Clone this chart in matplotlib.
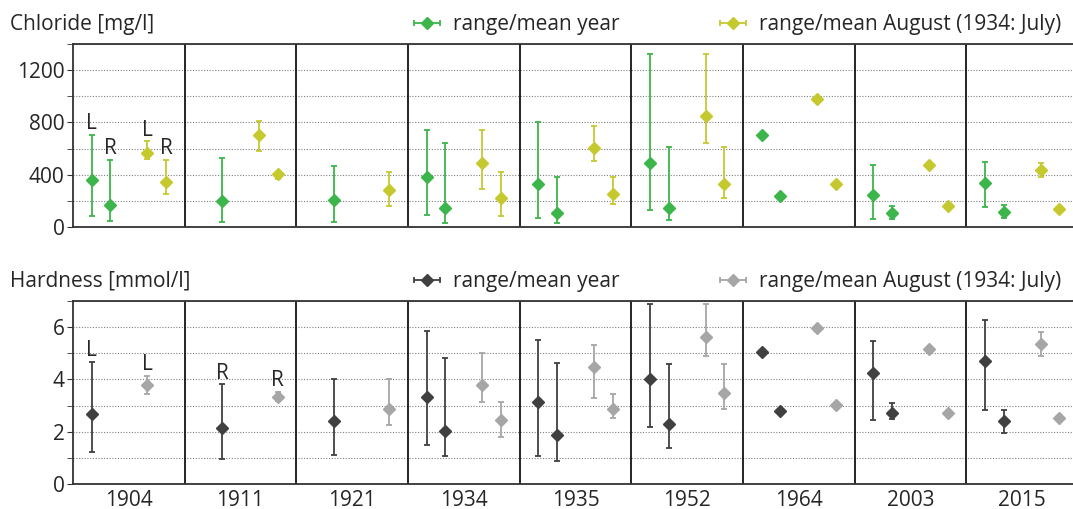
import numpy as np
import matplotlib
matplotlib.use("Agg")
from matplotlib import pyplot as plt
from matplotlib.legend import Legend
from matplotlib.legend_handler import HandlerErrorbar

plt.rcParams["font.family"] = ["Open Sans", "DejaVu Sans"]

years = ["1904", "1911", "1921", "1934", "1935", "1952", "1964", "2003", "2015"]
nan = np.nan

# Chloride [mg/l]: mean, low, high per series (L/R = left/right point)
cl_year_l = [357, nan, nan, 385, 326, 492, 706, 247, 334]
cl_year_l_lo = [82, nan, nan, 94, 71, 132, nan, 59, 150]
cl_year_l_hi = [703, nan, nan, 739, 800, 1320, nan, 474, 499]
cl_year_r = [168, 196, 204, 143, 110, 148, 234, 104, 112]
cl_year_r_lo = [46, 36, 41, 31, 31, 54, nan, 61, 71]
cl_year_r_hi = [512, 527, 469, 645, 380, 614, nan, 160, 171]
cl_aug_l = [568, 703, nan, 492, 606, 848, 976, 471, 436]
cl_aug_l_lo = [520, 578, nan, 290, 504, 639, nan, nan, 382]
cl_aug_l_hi = [655, 808, nan, 739, 775, 1320, nan, nan, 492]
cl_aug_r = [341, 405, 285, 219, 255, 326, 326, 160, 135]
cl_aug_r_lo = [252, 367, 163, 84, 173, 219, nan, nan, nan]
cl_aug_r_hi = [512, 423, 423, 418, 380, 611, nan, nan, nan]

# Hardness [mmol/l]
hd_year_l = [2.68, nan, nan, 3.31, 3.13, 4.00, 5.06, 4.23, 4.69]
hd_year_l_lo = [1.22, nan, nan, 1.50, 1.07, 2.18, nan, 2.46, 2.84]
hd_year_l_hi = [4.68, nan, nan, 5.85, 5.49, 6.88, nan, 5.46, 6.27]
hd_year_r = [nan, 2.13, 2.41, 2.04, 1.87, 2.31, 2.78, 2.70, 2.41]
hd_year_r_lo = [nan, 0.96, 1.12, 1.08, 0.89, 1.39, nan, 2.48, 1.94]
hd_year_r_hi = [nan, 3.81, 4.01, 4.82, 4.64, 4.60, nan, 3.08, 2.84]
hd_aug_l = [3.80, nan, nan, 3.80, 4.46, 5.63, 5.96, 5.18, 5.35]
hd_aug_l_lo = [3.45, nan, nan, 3.12, 3.29, 4.90, nan, nan, 4.89]
hd_aug_l_hi = [4.13, nan, nan, 5.01, 5.30, 6.88, nan, nan, 5.80]
hd_aug_r = [nan, 3.32, 2.88, 2.45, 2.88, 3.50, 3.02, 2.70, 2.51]
hd_aug_r_lo = [nan, 3.18, 2.25, 1.78, 2.51, 2.88, nan, nan, nan]
hd_aug_r_hi = [nan, 3.53, 4.01, 3.12, 3.45, 4.60, nan, nan, nan]

# L/R tags: (series slot, group index, text)
cl_tags = [(0, 0, "L"), (1, 0, "R"), (2, 0, "L"), (3, 0, "R")]
hd_tags = [(0, 0, "L"), (2, 0, "L"), (1, 1, "R"), (3, 1, "R")]

legend_labels = ["range/mean year", "range/mean August (1934: July)"]

TXT = "#262626"
FS = 15
offsets = [1 / 6, 2 / 6, 4 / 6, 5 / 6]


def draw_panel(ax, series, colors, tags, ylim, major, minor, title):
    groups = np.arange(len(years))
    for slot, (mean, lo, hi) in enumerate(series):
        mean, lo, hi = np.array(mean), np.array(lo), np.array(hi)
        color = colors[slot // 2]
        ax.errorbar(groups + offsets[slot], mean, yerr=[mean - lo, hi - mean],
                    fmt="D", ms=6.5, color=color, ecolor=color, elinewidth=1.3,
                    capsize=2.2, capthick=1.3, zorder=3)
    for slot, g, txt in tags:
        mean, lo, hi = series[slot]
        top = hi[g] if not np.isnan(hi[g]) else mean[g]
        ax.annotate(txt, (g + offsets[slot], top), xytext=(0, 0.5),
                    textcoords="offset points", ha="center", va="bottom",
                    fontsize=FS, color=TXT)

    # legend entries, each with a horizontal bar and caps
    for c, lab, x0 in zip(colors, legend_labels, [0.3353, 0.640]):
        h = ax.errorbar([nan], [nan], xerr=[1], fmt="D", ms=6, color=c,
                        elinewidth=1.3, capsize=2.5, capthick=1.3)
        leg = Legend(ax, [h], [lab], frameon=False, loc="center left",
                     bbox_to_anchor=(x0, 1.107), fontsize=FS,
                     handlelength=1.6, handletextpad=0.45, borderpad=0,
                     borderaxespad=0,
                     handler_map={type(h): HandlerErrorbar(xerr_size=0.62)})
        for t in leg.get_texts():
            t.set_color(TXT)
        ax.add_artist(leg)

    ax.set_xlim(0, len(years))
    ax.set_ylim(*ylim)
    ax.set_yticks(np.arange(ylim[0], ylim[1], major))
    ax.set_yticks(np.arange(ylim[0], ylim[1] + 0.001, minor), minor=True)
    ax.yaxis.grid(True, which="both", linestyle=(0, (1, 1.5)), color="#808080",
                  linewidth=0.8)
    ax.set_axisbelow(True)
    for i in range(1, len(years)):
        ax.axvline(i, color="black", linewidth=1.2, zorder=2)
    ax.spines["right"].set_visible(False)
    for s in ["top", "bottom", "left"]:
        ax.spines[s].set_linewidth(1.3)
        ax.spines[s].set_color("#333333")
    ax.tick_params(axis="y", which="both", direction="out", length=4,
                   labelsize=FS, labelcolor=TXT, color="#333333", pad=2)
    ax.set_xticks(np.arange(len(years)) + 0.5)
    ax.tick_params(axis="x", length=0, labelsize=FS, labelcolor=TXT, pad=4)
    ax.text(-0.0627, 1.107, title, transform=ax.transAxes, fontsize=FS,
            color=TXT, ha="left", va="center")


fig = plt.figure(figsize=(10.73, 5.09), dpi=100)
ax1 = fig.add_axes([73 / 1073, 1 - 227 / 509, 1005 / 1073, 183 / 509])
ax2 = fig.add_axes([73 / 1073, 1 - 484 / 509, 1005 / 1073, 183 / 509])

draw_panel(ax1,
           [(cl_year_l, cl_year_l_lo, cl_year_l_hi),
            (cl_year_r, cl_year_r_lo, cl_year_r_hi),
            (cl_aug_l, cl_aug_l_lo, cl_aug_l_hi),
            (cl_aug_r, cl_aug_r_lo, cl_aug_r_hi)],
           ["#3cb54a", "#c5c92e"], cl_tags, (0, 1400), 400, 200,
           "Chloride [mg/l]")
ax1.set_xticklabels([])

draw_panel(ax2,
           [(hd_year_l, hd_year_l_lo, hd_year_l_hi),
            (hd_year_r, hd_year_r_lo, hd_year_r_hi),
            (hd_aug_l, hd_aug_l_lo, hd_aug_l_hi),
            (hd_aug_r, hd_aug_r_lo, hd_aug_r_hi)],
           ["#404040", "#a6a6a6"], hd_tags, (0, 7), 2, 1,
           "Hardness [mmol/l]")
ax2.set_xticklabels(years)

fig.savefig("out.png", dpi=100)
